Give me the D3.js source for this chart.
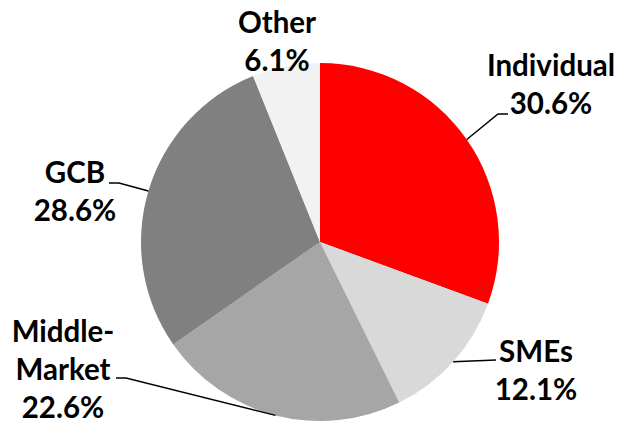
<!DOCTYPE html>
<html>
<head>
<meta charset="utf-8">
<script src="https://cdn.jsdelivr.net/npm/d3@7"></script>
<style>
html,body{margin:0;padding:0;background:#fff;}
svg{display:block;}
text{font-family:Lato,"Open Sans",sans-serif;font-weight:bold;fill:#000;}
</style>
</head>
<body>
<svg id="chart" width="620" height="426"></svg>
<script>
// ---- data ----
const categories = ["Individual", "SMEs", "Middle-Market", "GCB", "Other"];
const values = [30.6, 12.1, 22.6, 28.6, 6.1];
const colors = ["#FF0000", "#D9D9D9", "#A6A6A6", "#808080", "#F2F2F2"];
const labelLines = [["Individual"], ["SMEs"], ["Middle-", "Market"], ["GCB"], ["Other"]];

// ---- layout (separate from data) ----
const W = 620, H = 426;
const cx = 320, cy = 242, R = 179;
const fontSize = 29.5, lineGap = 38;
// label anchor: x center, baseline of first line
const labelPos = [
  {x: 551, y: 76},
  {x: 536, y: 362},
  {x: 63, y: 342},
  {x: 75, y: 183},
  {x: 277, y: 33}
];
// leader bends (absolute px), null = no leader
const leaderBends = [
  [[498, 114], [508, 114]],
  [[496, 360]],
  [[126, 378], [116, 378]],
  [[119, 183], [109, 183]],
  null
];

const svg = d3.select("#chart");
const g = svg.append("g").attr("transform", `translate(${cx},${cy})`);

const pie = d3.pie().sort(null).value(d => d.v).startAngle(0).endAngle(2 * Math.PI);
const data = categories.map((c, i) => ({c, v: values[i], color: colors[i], lines: labelLines[i]}));
const arcs = pie(data);
const arc = d3.arc().innerRadius(0).outerRadius(R);

g.selectAll("path.slice").data(arcs).enter().append("path")
  .attr("class", "slice")
  .attr("d", arc)
  .attr("fill", d => d.data.color);

// leader lines
arcs.forEach((a, i) => {
  if (!leaderBends[i]) return;
  const mid = (a.startAngle + a.endAngle) / 2;
  const sx = cx + R * Math.sin(mid), sy = cy - R * Math.cos(mid);
  const pts = [[sx, sy]].concat(leaderBends[i]);
  svg.append("path")
    .attr("d", d3.line()(pts))
    .attr("fill", "none")
    .attr("stroke", "#000")
    .attr("stroke-width", 1.5);
});

// labels
arcs.forEach((a, i) => {
  const p = labelPos[i];
  const t = svg.append("text")
    .attr("text-anchor", "middle")
    .attr("font-size", fontSize);
  const lines = a.data.lines.concat([a.data.v.toFixed(1) + "%"]);
  lines.forEach((ln, k) => {
    t.append("tspan").attr("x", p.x).attr("y", p.y + k * lineGap).text(ln);
  });
});
</script>
</body>
</html>
